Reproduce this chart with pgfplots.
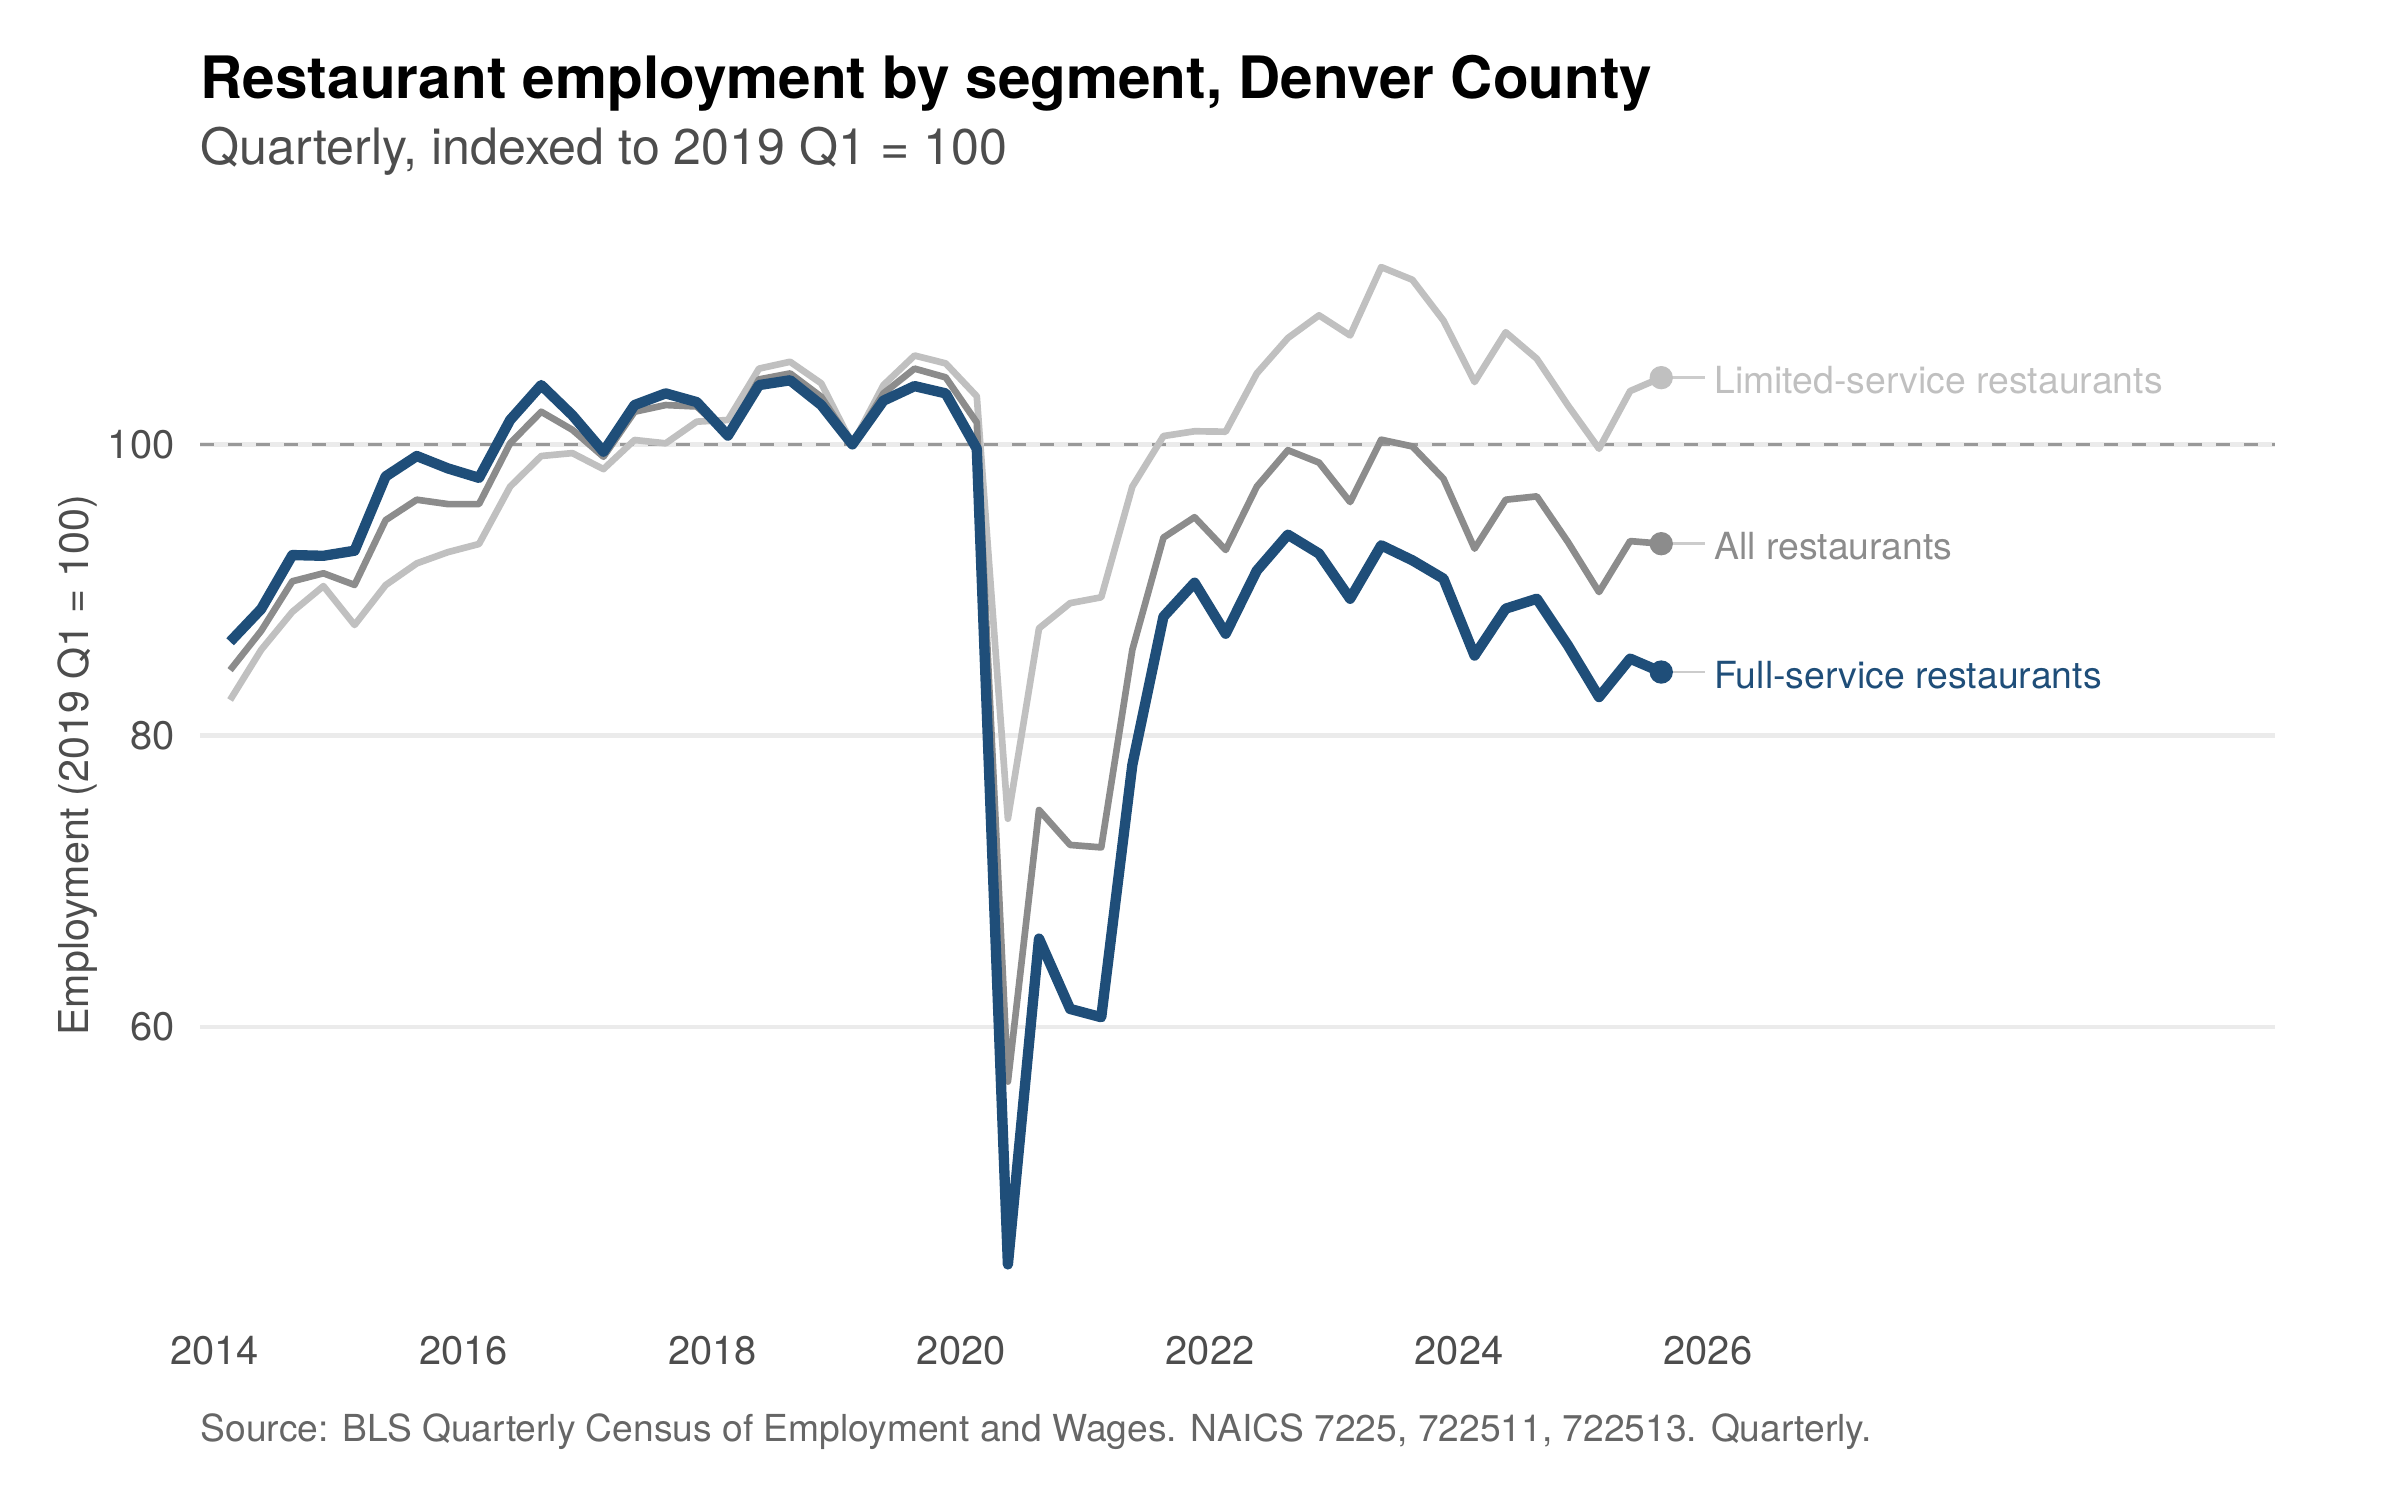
\documentclass[border=0pt]{standalone}
\usepackage{pgfplots}
\pgfplotsset{compat=1.18}
\usepackage{pgfplotstable}
\usepackage{fontspec}
\setmainfont{TeX Gyre Heros}
\definecolor{cFull}{HTML}{1F4E79}
\definecolor{cAll}{HTML}{8C8C8C}
\definecolor{cLim}{HTML}{C0C0C0}
\definecolor{cGrid}{HTML}{EBEBEB}
\definecolor{cDash}{HTML}{999999}
\definecolor{cConn}{HTML}{CCCCCC}
\definecolor{cTick}{HTML}{4D4D4D}
\definecolor{cSub}{HTML}{4D4D4D}
\definecolor{cCap}{HTML}{666666}
\pgfplotstableread{
x full all lim
2014.125 86.45 84.50 82.45
2014.375 88.70 87.20 85.90
2014.625 92.40 90.60 88.50
2014.875 92.35 91.15 90.27
2015.125 92.70 90.35 87.60
2015.375 97.80 94.80 90.34
2015.625 99.20 96.20 91.83
2015.875 98.35 95.90 92.60
2016.125 97.70 95.90 93.16
2016.375 101.67 100.07 97.10
2016.625 104.07 102.24 99.20
2016.875 102.00 101.00 99.40
2017.125 99.50 99.15 98.30
2017.375 102.70 102.24 100.30
2017.625 103.50 102.70 100.07
2017.875 102.90 102.60 101.56
2018.125 100.60 100.64 101.67
2018.375 104.07 104.46 105.20
2018.625 104.40 104.87 105.67
2018.875 102.70 103.27 104.19
2019.125 100.00 100.00 100.00
2019.375 103.00 103.50 104.07
2019.625 104.00 105.20 106.10
2019.875 103.50 104.60 105.56
2020.125 99.70 101.50 103.30
2020.375 43.70 56.25 74.30
2020.625 66.07 74.90 87.37
2020.875 61.24 72.50 89.10
2021.125 60.67 72.33 89.50
2021.375 78.00 85.90 97.10
2021.625 88.17 93.60 100.57
2021.875 90.50 95.00 100.90
2022.125 87.00 92.75 100.87
2022.375 91.33 97.10 104.87
2022.625 93.80 99.60 107.30
2022.875 92.50 98.75 108.86
2023.125 89.40 96.04 107.48
2023.375 93.07 100.32 112.17
2023.625 92.04 99.86 111.30
2023.875 90.78 97.64 108.50
2024.125 85.50 92.84 104.28
2024.375 88.72 96.20 107.70
2024.625 89.40 96.43 105.88
2024.875 86.20 93.30 102.68
2025.125 82.65 89.86 99.70
2025.375 85.29 93.36 103.66
2025.625 84.37 93.18 104.58
}\data
\begin{document}
\begin{tikzpicture}
\path[use as bounding box] (0,0) rectangle (720bp,450bp);
\begin{axis}[
  at={(60bp,55.9bp)}, anchor=south west,
  scale only axis, width=622.5bp, height=328.9bp,
  xmin=2013.883, xmax=2030.557, ymin=40.32, ymax=115.59,
  clip=false,
  axis line style={draw=none},
  major tick length=0pt, tick style={draw=none},
  xtick={2014,2016,2018,2020,2022,2024,2026},
  ytick={60,80,100},
  scaled ticks=false,
  /pgf/number format/1000 sep={},
  /pgf/number format/assume math mode=true,
  ymajorgrids,
  grid style={cGrid, line width=1.4bp},
  xticklabel style={font=\fontsize{12}{14}\selectfont, text=cTick, anchor=base, inner sep=0pt, yshift=-15.4bp},
  yticklabel style={font=\fontsize{12}{14}\selectfont, text=cTick, anchor=east, inner sep=0pt, xshift=-7.5bp},
  line join=round, line cap=butt,
]
\addplot[cDash, line width=1.05bp, dash pattern=on 4.2bp off 4.2bp] coordinates {(2013.883,100) (2030.557,100)};
\addplot[cLim, line width=2.0bp, no marks] table[x=x, y=lim] {\data};
\addplot[cAll, line width=2.0bp, no marks] table[x=x, y=all] {\data};
\addplot[cFull, line width=3.1bp, no marks] table[x=x, y=full] {\data};
\addplot[only marks, mark=*, mark size=3.3bp, cLim, mark options={draw=cLim, fill=cLim}] coordinates {(2025.625,104.58)};
\addplot[only marks, mark=*, mark size=3.3bp, cAll, mark options={draw=cAll, fill=cAll}] coordinates {(2025.625,93.18)};
\addplot[only marks, mark=*, mark size=3.3bp, cFull, mark options={draw=cFull, fill=cFull}] coordinates {(2025.625,84.37)};
\addplot[cConn, line width=0.8bp] coordinates {(2025.665,104.58) (2025.98,104.58)};
\addplot[cConn, line width=0.8bp] coordinates {(2025.665,93.18) (2025.98,93.18)};
\addplot[cConn, line width=0.8bp] coordinates {(2025.665,84.37) (2025.98,84.37)};
\node[anchor=west, inner sep=0pt, yshift=-0.8bp, font=\fontsize{11.25}{13}\selectfont, text=cLim] at (axis cs:2026.047,104.58) {Limited-service restaurants};
\node[anchor=west, inner sep=0pt, yshift=-0.8bp, font=\fontsize{11.25}{13}\selectfont, text=cAll] at (axis cs:2026.047,93.18) {All restaurants};
\node[anchor=west, inner sep=0pt, yshift=-0.8bp, font=\fontsize{11.25}{13}\selectfont, text=cFull] at (axis cs:2026.047,84.37) {Full-service restaurants};
\end{axis}
\node[anchor=base west, inner sep=0pt, font=\bfseries\fontsize{17.6}{20}\selectfont, text=black] at (60bp,420.3bp) {Restaurant employment by segment, Denver County};
\node[anchor=base west, inner sep=0pt, font=\fontsize{15.1}{17}\selectfont, text=cSub] at (60bp,400.5bp) {Quarterly, indexed to 2019 Q1 = 100};
\node[anchor=base west, inner sep=0pt, font=\fontsize{11.2}{13}\selectfont, text=cCap] at (60bp,17.5bp) {Source: BLS Quarterly Census of Employment and Wages. NAICS 7225, 722511, 722513. Quarterly.};
\node[anchor=base, rotate=90, inner sep=0pt, font=\fontsize{12.4}{14}\selectfont, text=cTick] at (26.5bp,220.35bp) {Employment (2019 Q1 = 100)};
\end{tikzpicture}
\end{document}
